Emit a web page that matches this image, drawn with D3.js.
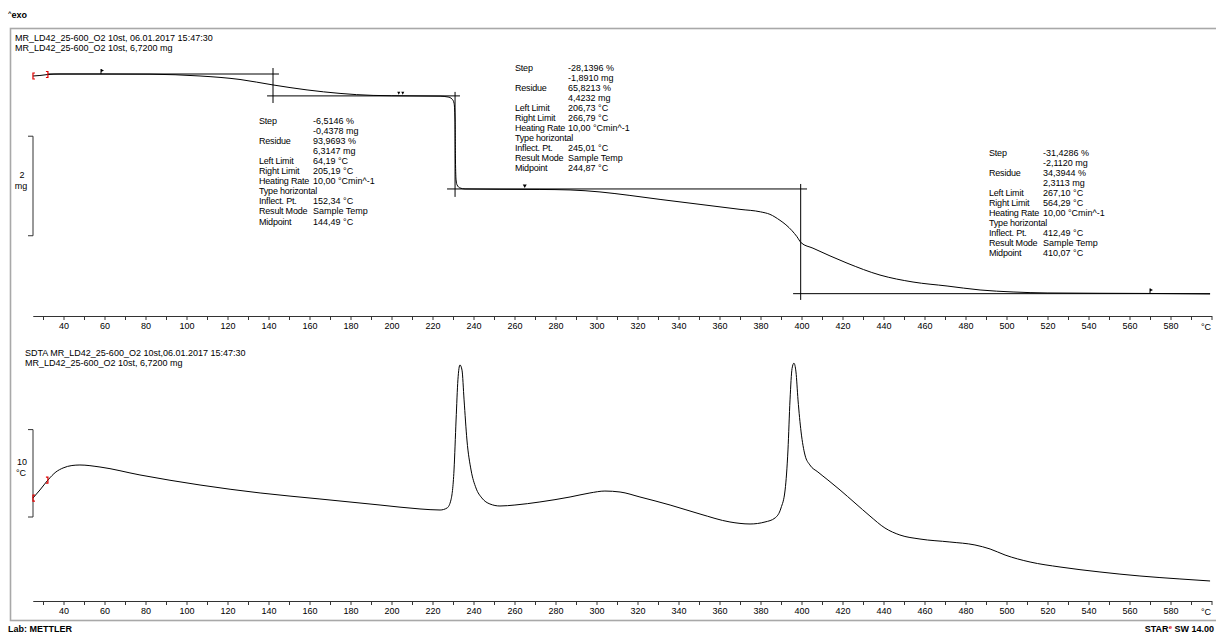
<!DOCTYPE html>
<html><head><meta charset="utf-8">
<script src="https://cdn.jsdelivr.net/npm/d3@7"></script>
<style>
html,body{margin:0;padding:0;background:#fff;}
text{font-family:"Liberation Sans",Arial,sans-serif;}
</style></head>
<body><svg id="c" width="1216" height="635"></svg>
<script>
// ---------------- DATA ----------------
// TGA curve: temperature (°C) and mass (mg)
const tgaT    = [25.1,28.5,32.4,38.3,57.8,82.2,106.6,126.1,142.2,158.8,174.9,191.0,209.0,223.7,227.6,229.5,230.5,231.0,231.2,231.5,232.0,233.4,235.9,252.9,272.4,287.1,301.7,316.3,331.0,350.5,370.0,380.0,384.6,389.5,392.4,395.4,397.8,399.8,405.6,422.2,438.3,454.4,471.0,487.1,503.2,519.8,545.6,570.0,599.3];
const tgaMass = [6.68,6.69,6.71,6.72,6.72,6.716,6.68,6.61,6.50,6.40,6.33,6.29,6.28,6.274,6.258,6.218,6.137,5.796,4.992,4.59,4.49,4.43,4.41,4.403,4.40,4.39,4.35,4.28,4.20,4.10,4.00,3.95,3.90,3.78,3.69,3.57,3.45,3.33,3.22,2.92,2.68,2.54,2.46,2.38,2.34,2.32,2.314,2.31,2.30];
// SDTA curve: temperature (°C) and signal (°C)
const dtaT   = [25.1,28.5,32.4,36.3,39.8,44.1,48.0,57.8,77.3,106.6,135.9,165.1,194.4,213.9,223.7,227.1,229.0,230.5,231.5,232.4,233.4,234.4,235.4,236.8,238.8,241.2,244.1,248.0,252.9,260.2,272.4,287.1,296.8,304.1,311.5,321.2,335.9,350.5,365.1,374.9,382.2,387.1,390.0,392.0,393.4,394.4,395.4,396.3,397.3,398.3,399.8,401.7,404.1,408.0,412.9,418.8,426.1,433.4,440.7,448.0,457.8,472.4,484.6,492.0,499.3,511.5,526.1,545.6,565.1,584.6,599.3];
const dtaVal = [2.17,3.09,4.23,5.15,5.61,5.89,5.95,5.72,4.81,3.66,2.75,2.06,1.37,0.92,0.80,1.03,1.95,5.38,11.1,15.7,17.4,16.8,13.4,8.81,5.38,3.32,2.17,1.49,1.26,1.37,1.72,2.29,2.75,2.97,2.86,2.29,1.37,0.34,-0.57,-0.80,-0.57,-0.11,1.03,3.09,7.67,13.4,17.0,17.6,16.6,13.4,9.73,7.09,5.95,5.15,4.23,3.09,1.60,0.11,-1.26,-2.06,-2.52,-2.86,-3.20,-3.66,-4.35,-5.15,-5.72,-6.29,-6.75,-7.09,-7.32];
// axis ticks
const minorTicks = d3.range(30, 601, 10);
const tickLabels = ["40","60","80","100","120","140","160","180","200","220","240","260","280","300","320","340","360","380","400","420","440","460","480","500","520","540","560","580"];
// evaluation construction lines (temperature, mass)
const hLineT1 = [32.4, 145.1, 139.3, 233.4, 227.1, 402.7, 395.9, 599.3];   // pairs: from,to
const hLineM  = [6.72, 6.28, 4.41, 2.306];
const vLineT  = [142.2, 231.0, 399.6];
const vLineM1 = [6.84, 6.36, 4.51];
const vLineM2 = [6.137, 4.25, 2.18];
// limit markers (temperature)
const flagT = [58.3, 570.0];
const dblT  = [204.5];
const triT  = [265.0];
// scale bars
const tgaBar = [5.47, 3.47];
const dtaBar = [0, 10];
// result texts
const labels = ["Step","","Residue","","Left Limit","Right Limit","Heating Rate","Type horizontal","Inflect. Pt.","Result Mode","Midpoint"];
const step1Vals = ["-6,5146 %","-0,4378 mg","93,9693 %","6,3147 mg","64,19 °C","205,19 °C","10,00 °Cmin^-1","","152,34 °C","Sample Temp","144,49 °C"];
const step2Vals = ["-28,1396 %","-1,8910 mg","65,8213 %","4,4232 mg","206,73 °C","266,79 °C","10,00 °Cmin^-1","","245,01 °C","Sample Temp","244,87 °C"];
const step3Vals = ["-31,4286 %","-2,1120 mg","34,3944 %","2,3113 mg","267,10 °C","564,29 °C","10,00 °Cmin^-1","","412,49 °C","Sample Temp","410,07 °C"];
const headerTGA = ["MR_LD42_25-600_O2 10st, 06.01.2017 15:47:30","MR_LD42_25-600_O2 10st, 6,7200 mg"];
const headerDTA = ["SDTA MR_LD42_25-600_O2 10st,06.01.2017 15:47:30","MR_LD42_25-600_O2 10st, 6,7200 mg"];

// ---------------- DRAW ----------------
const svg = d3.select("#c");
svg.append("rect").attr("width",1216).attr("height",635).attr("fill","#fff");

const x = d3.scaleLinear().domain([25,600]).range([32.75,1211.5]);
const yT = d3.scaleLinear().domain([6.72, 2.3113]).range([74, 293.4]);
const yD = d3.scaleLinear().domain([0,10]).range([517, 429.6]);

// frame
svg.append("rect").attr("x",10.5).attr("y",28.5).attr("width",1212).attr("height",592)
  .attr("fill","none").attr("stroke","#a8a8a8").attr("stroke-width",1.6);

// exo label
const exo = svg.append("text").attr("x",8).attr("y",18).attr("font-size",9).attr("font-weight","bold").attr("fill","#000");
exo.append("tspan").attr("font-size",6).attr("dy",-3).text("^");
exo.append("tspan").attr("dy",3).text("exo");

// headers
function header(lines, x0, y0){
  lines.forEach((t,i)=>svg.append("text").attr("x",x0).attr("y",y0+i*10).attr("font-size",9).attr("fill","#000").text(t));
}
header(headerTGA, 15, 41);
header(headerDTA, 25, 356);

// axes
function drawAxis(y0){
  const ax = d3.axisBottom(x).tickValues(minorTicks).tickSize(4).tickSizeOuter(0).tickPadding(3)
    .tickFormat(d => tickLabels.includes(String(d)) ? String(d) : "");
  const g = svg.append("g").attr("transform",`translate(0,${y0})`).call(ax);
  g.select(".domain").attr("stroke","#333");
  g.selectAll(".tick line").attr("stroke","#333");
  g.selectAll("text").attr("font-size",9).attr("font-family","Liberation Sans, Arial, sans-serif").attr("fill","#000");
  svg.append("text").attr("x",1206).attr("y",y0+13.5).attr("font-size",9).attr("text-anchor","middle").text("°C");
}
drawAxis(316);
drawAxis(601);

// scale bars
function scaleBar(y1, y2, l1, l2, ly){
  svg.append("path").attr("d",`M28,${y1}H33V${y2}H28`).attr("fill","none").attr("stroke","#333").attr("stroke-width",1);
  svg.append("text").attr("x",22).attr("y",ly).attr("font-size",9).attr("text-anchor","middle").text(l1);
  svg.append("text").attr("x",21).attr("y",ly+11).attr("font-size",9).attr("text-anchor","middle").text(l2);
}
scaleBar(yT(tgaBar[0]), yT(tgaBar[1]), "2", "mg", 178);
scaleBar(yD(dtaBar[1]), yD(dtaBar[0]), "10", "°C", 465);

// construction lines
const cl = svg.append("g").attr("stroke","#000").attr("stroke-width",1).attr("fill","none");
hLineM.forEach((m,i)=>{
  cl.append("line").attr("x1",x(hLineT1[2*i])).attr("x2",x(hLineT1[2*i+1])).attr("y1",yT(m)).attr("y2",yT(m));
});
vLineT.forEach((t,i)=>{
  cl.append("line").attr("x1",x(t)).attr("x2",x(t)).attr("y1",yT(vLineM1[i])).attr("y2",yT(vLineM2[i]));
});

// curves
const tgaData = tgaT.map((t,i)=>({t, v:tgaMass[i]}));
const dtaData = dtaT.map((t,i)=>({t, v:dtaVal[i]}));
svg.append("path").datum(tgaData).attr("fill","none").attr("stroke","#000").attr("stroke-width",1)
  .attr("d", d3.line().x(d=>x(d.t)).y(d=>yT(d.v)).curve(d3.curveMonotoneX));
svg.append("path").datum(dtaData).attr("fill","none").attr("stroke","#000").attr("stroke-width",1)
  .attr("d", d3.line().x(d=>x(d.t)).y(d=>yD(d.v)).curve(d3.curveMonotoneX));

// interpolate
function interp(T, arrT, arrV){
  const i = Math.max(1, d3.bisectLeft(arrT, T));
  const t0=arrT[i-1], t1=arrT[i], v0=arrV[i-1], v1=arrV[i];
  return v0 + (v1-v0)*(T-t0)/(t1-t0);
}

// red start brackets
function brackets(sx, ey){
  const g = svg.append("g").attr("stroke","#e00000").attr("stroke-width",1.2).attr("fill","none");
  const x0 = x(dtaT[0]);
  g.append("path").attr("d",`M${x0+2},${sx-3}H${x0}V${sx+3}H${x0+2}`);
  const x1 = x(32.4);
  g.append("path").attr("d",`M${x1-2},${ey-3}H${x1}V${ey+3}H${x1-2}`);
}
brackets(yT(tgaMass[0]), yT(tgaMass[2]));
brackets(yD(dtaVal[0]), yD(dtaVal[2]));

// markers
flagT.forEach(t=>{
  const px=x(t), py=yT(interp(t,tgaT,tgaMass));
  svg.append("path").attr("d",`M${px},${py}V${py-5}`).attr("stroke","#000").attr("stroke-width",1);
  svg.append("path").attr("d",`M${px},${py-5}L${px+3},${py-3.5}L${px},${py-2}Z`).attr("fill","#000");
});
dblT.forEach(t=>{
  const px=x(t), py=yT(interp(t,tgaT,tgaMass));
  [-2,2].forEach(o=>svg.append("path").attr("d",`M${px+o-1.5},${py-4}L${px+o+1.5},${py-4}L${px+o},${py-1}Z`).attr("fill","#000"));
});
triT.forEach(t=>{
  const px=x(t), py=yT(interp(t,tgaT,tgaMass));
  svg.append("path").attr("d",`M${px-2},${py-5}L${px+2},${py-5}L${px},${py-1.5}Z`).attr("fill","#000");
});

// result blocks
function block(vals, lx, vx, y0){
  labels.forEach((l,i)=>{
    if(l) svg.append("text").attr("x",lx).attr("y",y0+i*10.05).attr("font-size",9).attr("letter-spacing",-0.2).text(l);
    if(vals[i]) svg.append("text").attr("x",vx).attr("y",y0+i*10.05).attr("font-size",9).text(vals[i]);
  });
}
block(step1Vals, 259, 313, 124);
block(step2Vals, 515, 568, 70.5);
block(step3Vals, 989, 1043, 155.5);

// footer
svg.append("text").attr("x",8).attr("y",632).attr("font-size",9).attr("font-weight","bold").text("Lab: METTLER");
const star = svg.append("text").attr("x",1214).attr("y",632).attr("font-size",9).attr("font-weight","bold").attr("text-anchor","end");
star.append("tspan").text("STAR");
star.append("tspan").attr("fill","#e00000").attr("font-size",6).attr("dy",-3).text("e");
star.append("tspan").attr("dy",3).text(" SW 14.00");
</script></body></html>
